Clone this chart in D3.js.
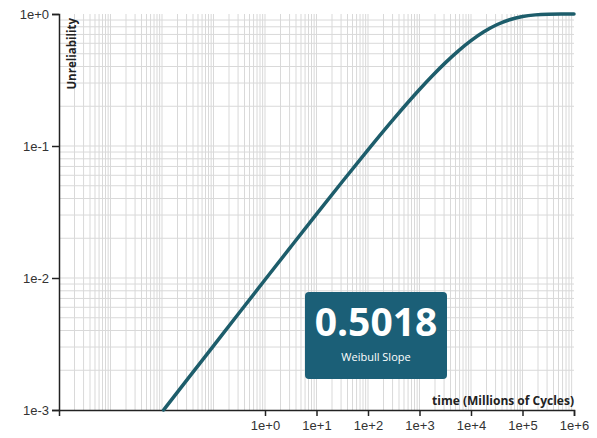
<!DOCTYPE html>
<html>
<head>
<meta charset="utf-8">
<script src="https://cdn.jsdelivr.net/npm/d3@7"></script>
<style>
  html, body { margin: 0; padding: 0; background: #fff; }
  svg { display: block; font-family: "Open Sans", sans-serif; }
  .axis text { font-size: 13px; fill: #333; }
  .axis path, .axis line { stroke: #222; stroke-width: 1.5; }
  .grid line { stroke: #d9d9d9; stroke-width: 1; }
</style>
</head>
<body>
<svg id="chart" width="597" height="438"></svg>
<script>
// Unreliability curve: time in millions of cycles vs. cumulative failure fraction
const times = [0.01074, 0.03162, 0.1, 0.3162, 1, 3.162, 10, 31.62, 100, 316.2, 1000,
  1778, 3162, 5623, 10000, 17783, 31623, 56234, 100000, 177828, 316228, 562341, 1000000];
const unreliability = [0.001, 0.00172, 0.003062, 0.00545, 0.009692, 0.017205, 0.03046, 0.05362,
  0.09353, 0.16053, 0.2679, 0.34048, 0.42628, 0.52369, 0.62849, 0.73328, 0.82871, 0.90511,
  0.95691, 0.98497, 0.99632, 0.99944, 0.999954];

const xTicks = [1e0, 1e1, 1e2, 1e3, 1e4, 1e5, 1e6];
const yTicks = [1e-3, 1e-2, 1e-1, 1e0];
const slopeValue = "0.5018";
const slopeLabel = "Weibull Slope";

const svg = d3.select("#chart");
const W = 597, H = 438;
const margin = { top: 14, right: 23, bottom: 28, left: 59 };

const x = d3.scaleLog().domain([1e-4, 1e6]).range([margin.left, W - margin.right]);
const y = d3.scaleLog().domain([1e-3, 1]).range([H - margin.bottom, margin.top]);

const fmt = d => "1e" + (Math.log10(d) >= 0 ? "+" : "") + Math.round(Math.log10(d));

// Minor/major log grid: every 1..9 multiple of each decade
const xGrid = [];
for (let e = -4; e < 6; e++) for (let m = 1; m <= 9; m++) xGrid.push(m * Math.pow(10, e));
const yGrid = [];
for (let e = -3; e < 0; e++) for (let m = 1; m <= 9; m++) yGrid.push(m * Math.pow(10, e));

const grid = svg.append("g").attr("class", "grid");
grid.selectAll(".vx").data(xGrid.slice(1)).join("line")
  .attr("x1", d => x(d)).attr("x2", d => x(d))
  .attr("y1", margin.top).attr("y2", H - margin.bottom);
grid.selectAll(".hy").data(yGrid.slice(1)).join("line")
  .attr("y1", d => y(d)).attr("y2", d => y(d))
  .attr("x1", margin.left).attr("x2", W - margin.right);

// Axes
svg.append("g").attr("class", "axis")
  .attr("transform", `translate(0,${H - margin.bottom})`)
  .call(d3.axisBottom(x).tickValues(xTicks).tickFormat(fmt).tickSize(6).tickPadding(5));
svg.append("g").attr("class", "axis")
  .attr("transform", `translate(${margin.left},0)`)
  .call(d3.axisLeft(y).tickValues(yTicks).tickFormat(fmt).tickSize(7).tickPadding(3));

// Curve
const pts = times.map((t, i) => [t, unreliability[i]]);
svg.append("path")
  .datum(pts)
  .attr("fill", "none")
  .attr("stroke", "#1d5d6b")
  .attr("stroke-width", 3.5)
  .attr("stroke-linecap", "round")
  .attr("d", d3.line().x(d => x(d[0])).y(d => y(d[1])).curve(d3.curveMonotoneX));

// Axis titles
svg.append("text")
  .attr("transform", `translate(76,${margin.top + 4}) rotate(-90)`)
  .attr("text-anchor", "end")
  .attr("font-size", 11.5).attr("font-weight", 700).attr("fill", "#222")
  .text("Unreliability");
svg.append("text")
  .attr("x", W - margin.right).attr("y", H - margin.bottom - 5)
  .attr("text-anchor", "end")
  .attr("font-size", 12).attr("font-weight", 700).attr("fill", "#222")
  .text("time (Millions of Cycles)");

// Slope badge
const bx = 305, by = 292, bw = 142, bh = 87;
svg.append("rect")
  .attr("x", bx).attr("y", by).attr("width", bw).attr("height", bh)
  .attr("rx", 4).attr("fill", "#1b5f77");
svg.append("text")
  .attr("x", bx + bw / 2).attr("y", by + 44)
  .attr("text-anchor", "middle")
  .attr("font-size", 39).attr("font-weight", 700).attr("fill", "#fff")
  .text(slopeValue);
svg.append("text")
  .attr("x", bx + bw / 2).attr("y", by + 69)
  .attr("text-anchor", "middle")
  .attr("font-size", 11).attr("fill", "#fff")
  .text(slopeLabel);
</script>
</body>
</html>
